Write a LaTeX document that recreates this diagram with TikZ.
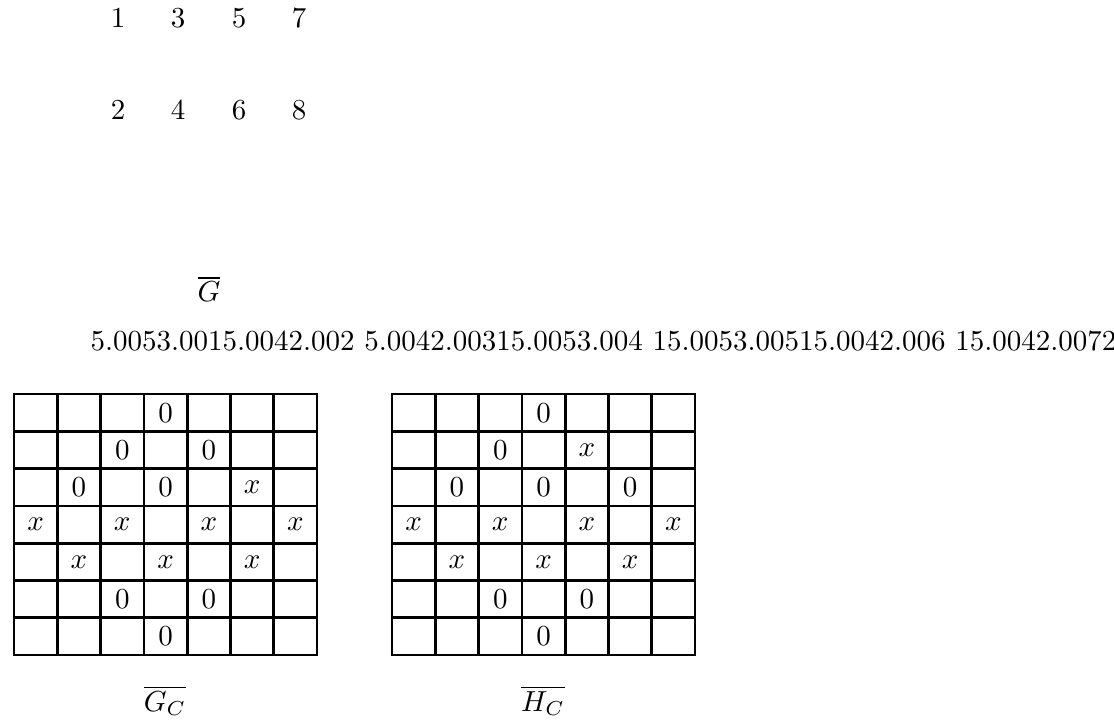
\documentclass[tikz,border=0pt]{standalone}
\usetikzlibrary{positioning}
\tikzset{
  cgr/vertex/.style={
    inner sep=0pt,
    font=\normalsize
  },
  cgr/title/.style={
    inner sep=0pt,
    font=\normalsize
  },
  cgr/cell/.style={
    rectangle,
    draw=black,
    line width=0.95pt,
    minimum width=14.94pt,
    minimum height=12.87pt,
    inner sep=0pt,
    font=\normalsize
  }
}
\begin{document}
\begin{tikzpicture}[x=0.345pt,y=-0.345pt]
  \useasboundingbox (0,0) rectangle (1114,726);
  % vertex labels
  \node[cgr/vertex] (v1) at (118,18) {1};
  \node[cgr/vertex] (v3) at (178,18) {3};
  \node[cgr/vertex] (v5) at (239,18) {5};
  \node[cgr/vertex] (v7) at (299,18) {7};
  \node[cgr/vertex] (v2) at (118,110) {2};
  \node[cgr/vertex] (v4) at (178,110) {4};
  \node[cgr/vertex] (v6) at (239,110) {6};
  \node[cgr/vertex] (v8) at (299,110) {8};
  \node[cgr/title] (gbar) at (209,289) {$\overline{G}$};
  \node[cgr/title,anchor=west] (coords) at (90,341) {5.0053.0015.0042.002 5.0042.00315.0053.004 15.0053.00515.0042.006 15.0042.0072};
  % left grid
  \foreach \row [count=\i] in {
      {{},{},{},0,{},{},{}},
      {{},{},0,{},0,{},{}},
      {{},0,{},0,{},x,{}},
      {x,{},x,{},x,{},x},
      {{},x,{},x,{},x,{}},
      {{},{},0,{},0,{},{}},
      {{},{},{},0,{},{},{}}}{
    \foreach \e [count=\j] in \row
      \node[cgr/cell] (g-\i-\j) at ({14+(\j-0.5)*43.3},{394+(\i-0.5)*37.3}) {$\e$};
  }
  % right grid
  \foreach \row [count=\i] in {
      {{},{},{},0,{},{},{}},
      {{},{},0,{},x,{},{}},
      {{},0,{},0,{},0,{}},
      {x,{},x,{},x,{},x},
      {{},x,{},x,{},x,{}},
      {{},{},0,{},0,{},{}},
      {{},{},{},0,{},{},{}}}{
    \foreach \e [count=\j] in \row
      \node[cgr/cell] (h-\i-\j) at ({392+(\j-0.5)*43.3},{394+(\i-0.5)*37.3}) {$\e$};
  }
  \node[cgr/title] (gclabel) at (165,701) {$\overline{G_C}$};
  \node[cgr/title] (hclabel) at (543,701) {$\overline{H_C}$};
\end{tikzpicture}
\end{document}
